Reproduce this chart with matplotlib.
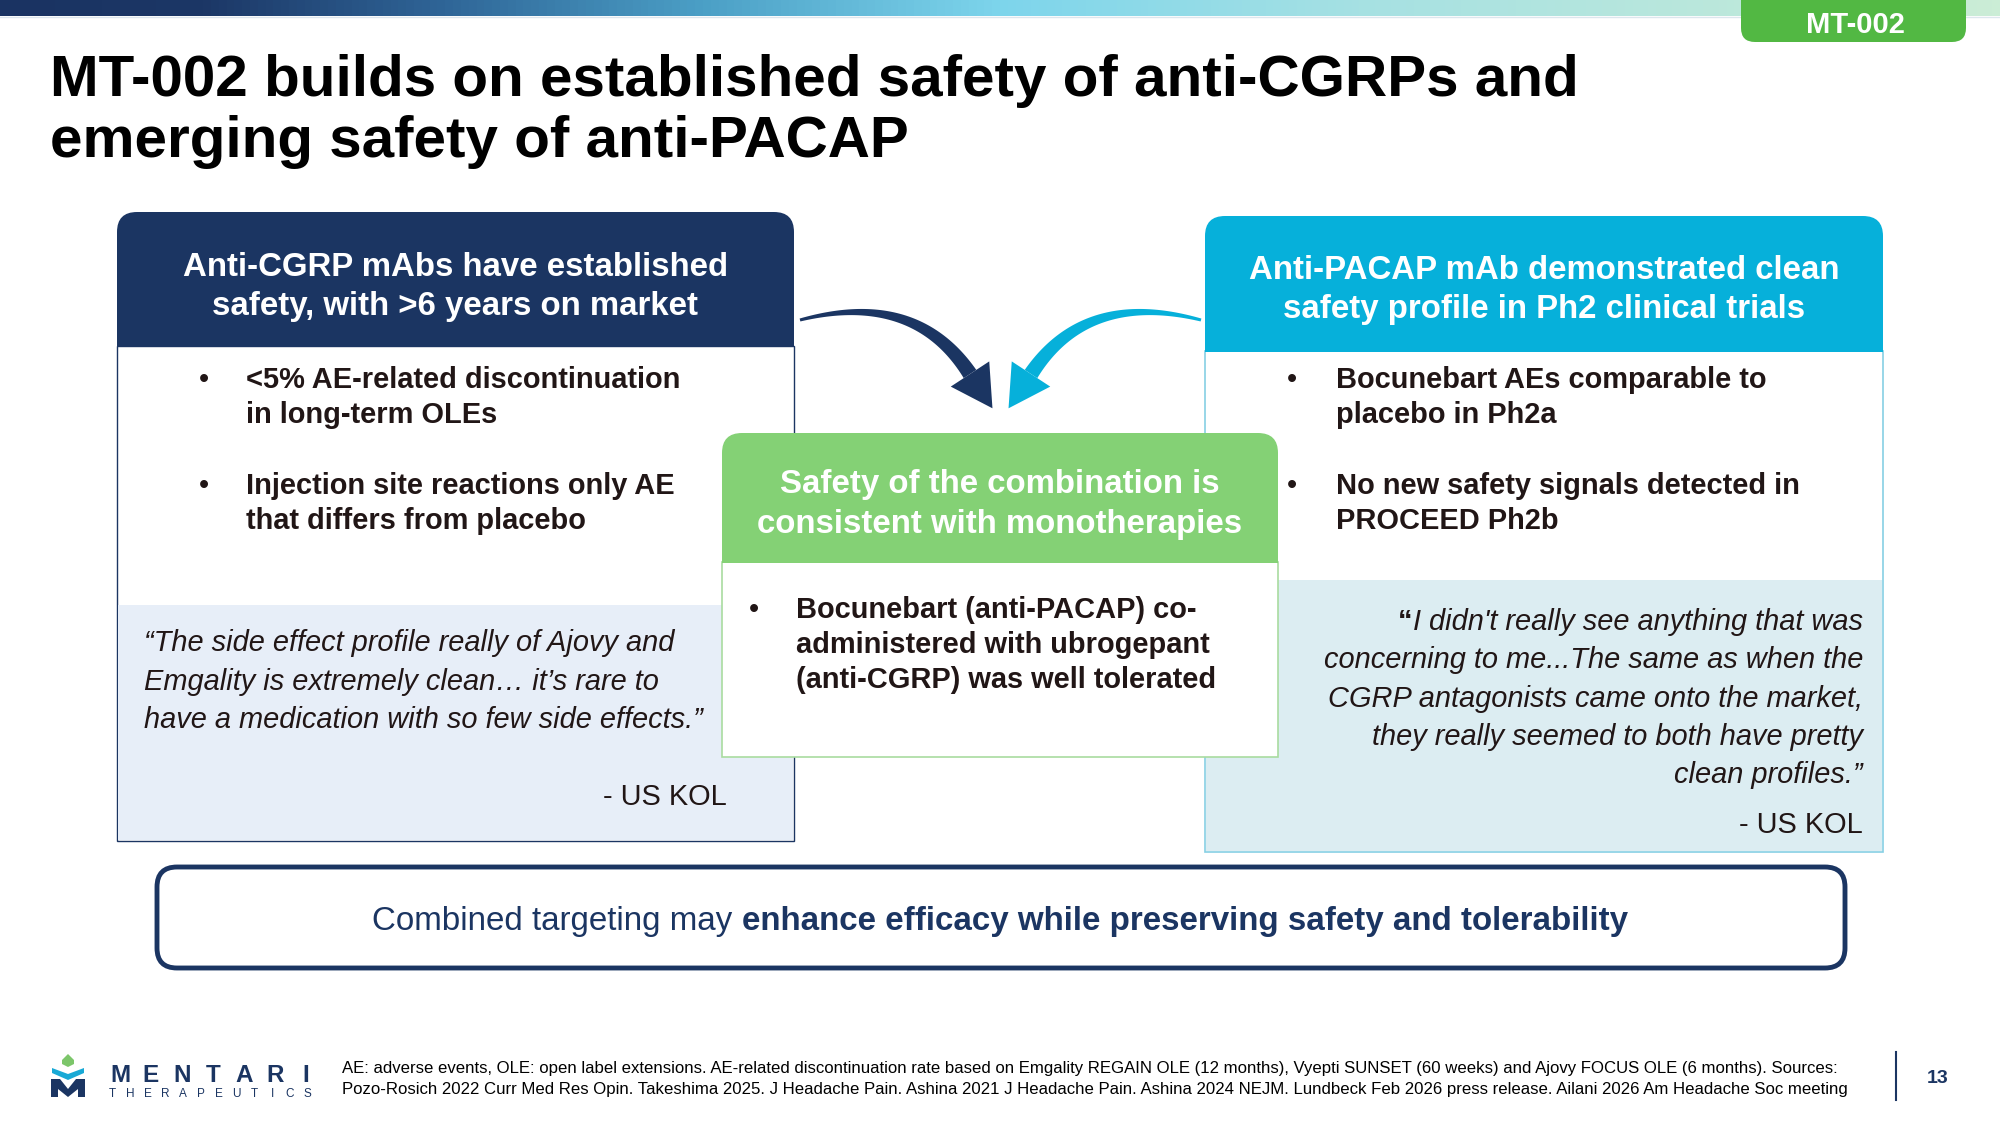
import matplotlib
matplotlib.use("Agg")
import matplotlib.pyplot as plt
import numpy as np
from matplotlib.colors import LinearSegmentedColormap
from matplotlib.patches import FancyBboxPatch, Rectangle, Polygon

plt.rcParams["font.family"] = ["Liberation Sans", "DejaVu Sans"]

# -----------------------------
# Slide text content
# -----------------------------
TITLE_LINES = [
    "MT-002 builds on established safety of anti-CGRPs and",
    "emerging safety of anti-PACAP",
]
TAG_TEXT = "MT-002"

LEFT_HEADER = ["Anti-CGRP mAbs have established", "safety, with >6 years on market"]
LEFT_BULLETS = [
    ["<5% AE-related discontinuation", "in long-term OLEs"],
    ["Injection site reactions only AE", "that differs from placebo"],
]
LEFT_QUOTE = [
    "\u201cThe side effect profile really of Ajovy and",
    "Emgality is extremely clean\u2026 it\u2019s rare to",
    "have a medication with so few side effects.\u201d",
]

RIGHT_HEADER = ["Anti-PACAP mAb demonstrated clean", "safety profile in Ph2 clinical trials"]
RIGHT_BULLETS = [
    ["Bocunebart AEs comparable to", "placebo in Ph2a"],
    ["No new safety signals detected in", "PROCEED Ph2b"],
]
RIGHT_QUOTE = [
    "I didn't really see anything that was",
    "concerning to me...The same as when the",
    "CGRP antagonists came onto the market,",
    "they really seemed to both have pretty",
    "clean profiles.\u201d",
]
QUOTE_SOURCE = "- US KOL"

CENTER_HEADER = ["Safety of the combination is", "consistent with monotherapies"]
CENTER_BULLET = [
    "Bocunebart (anti-PACAP) co-",
    "administered with ubrogepant",
    "(anti-CGRP) was well tolerated",
]

BANNER_PLAIN = "Combined targeting may "
BANNER_BOLD = "enhance efficacy while preserving safety and tolerability"

FOOTNOTES = [
    "AE: adverse events, OLE: open label extensions. AE-related discontinuation rate based on Emgality "
    "REGAIN OLE (12 months), Vyepti SUNSET (60 weeks) and Ajovy FOCUS OLE (6 months). Sources:",
    "Pozo-Rosich 2022 Curr Med Res Opin. Takeshima 2025. J Headache Pain. Ashina 2021 J Headache Pain. "
    "Ashina 2024 NEJM. Lundbeck Feb 2026 press release. Ailani 2026 Am Headache Soc meeting",
]
PAGE_NUMBER = "13"
LOGO_NAME = "MENTARI"
LOGO_SUB = "THERAPEUTICS"

# -----------------------------
# Colours and sizes
# -----------------------------
NAVY = "#1b3562"
CYAN = "#06b0da"
GREEN = "#84d175"
TAG_GREEN = "#52b843"
TEXT_DARK = "#211616"
LEFT_QUOTE_BG = "#e7eef8"
RIGHT_QUOTE_BG = "#dcedf2"

HEADER_FS = 23.8
BULLET_FS = 20.9
QUOTE_FS = 20.9

W, H = 2000, 1125
fig = plt.figure(figsize=(20, 11.25), dpi=100)
ax = fig.add_axes([0, 0, 1, 1])
ax.set_xlim(0, W)
ax.set_ylim(H, 0)
ax.axis("off")


def rounded_top_box(x0, y0, x1, y1, color, r=20, z=2):
    """Filled box with rounded top corners only."""
    ax.add_patch(FancyBboxPatch((x0, y0), x1 - x0, y1 - y0,
                                boxstyle=f"round,pad=0,rounding_size={r}",
                                fc=color, ec="none", zorder=z))
    ax.add_patch(Rectangle((x0, y1 - r - 2), x1 - x0, r + 2, fc=color, ec="none", zorder=z))


def text_width(t):
    fig.canvas.draw()
    bb = t.get_window_extent(renderer=fig.canvas.get_renderer())
    inv = ax.transData.inverted()
    (a, _), (b, _) = inv.transform([[bb.x0, bb.y0], [bb.x1, bb.y1]])
    return abs(b - a)


def tapered_arrow(p0, p1, p2, color, w0=3.0, w1=15.0, head_w=46, head_len=41):
    p0, p1, p2 = map(np.asarray, (p0, p1, p2))
    t = np.linspace(0, 1, 60)[:, None]
    pts = (1 - t) ** 2 * p0 + 2 * t * (1 - t) * p1 + t ** 2 * p2
    tang = 2 * (1 - t) * (p1 - p0) + 2 * t * (p2 - p1)
    tang /= np.linalg.norm(tang, axis=1, keepdims=True)
    nrm = np.column_stack([-tang[:, 1], tang[:, 0]])
    wid = (w0 + (w1 - w0) * t) / 2
    side_a = pts + nrm * wid
    side_b = pts - nrm * wid
    ax.add_patch(Polygon(np.vstack([side_a, side_b[::-1]]), closed=True, fc=color, ec="none", zorder=3))
    d = tang[-1]
    n = nrm[-1]
    head = [p2 + n * head_w / 2, p2 + d * head_len, p2 - n * head_w / 2]
    ax.add_patch(Polygon(head, closed=True, fc=color, ec="none", zorder=3, joinstyle="round"))


# -----------------------------
# Top gradient bar and tag
# -----------------------------
bar_cmap = LinearSegmentedColormap.from_list(
    "bar", [(0.0, "#1a3362"), (0.10, "#1c3766"), (0.22, "#2f6597"), (0.35, "#4b9fc6"),
            (0.50, "#7dd5ec"), (0.68, "#a6e1e3"), (1.0, "#cbedd6")])
ax.imshow(np.linspace(0, 1, 512)[None, :], cmap=bar_cmap, aspect="auto",
          extent=(0, W, 16, 0), zorder=1)
ax.plot([0, W], [17, 17], color="#dde6ee", lw=1, zorder=1)

ax.add_patch(FancyBboxPatch((1741, -40), 225, 82, boxstyle="round,pad=0,rounding_size=14",
                            fc=TAG_GREEN, ec="none", zorder=4))
ax.text(1855, 25, TAG_TEXT, color="white", fontsize=21, fontweight="bold",
        ha="center", va="center", zorder=5)

# Title
for i, line in enumerate(TITLE_LINES):
    ax.text(50, 96 + i * 61, line, fontsize=42, fontweight="bold", color="black",
            ha="left", va="baseline")

# -----------------------------
# Left box
# -----------------------------
LX0, LX1 = 117, 794
ax.add_patch(Rectangle((LX0, 346), LX1 - LX0, 841 - 346, fc="white", ec=NAVY, lw=1.0, zorder=2))
ax.add_patch(Rectangle((LX0 + 1, 605), LX1 - LX0 - 2, 841 - 605 - 1, fc=LEFT_QUOTE_BG, ec="none", zorder=2))
rounded_top_box(LX0, 212, LX1, 347, NAVY)
for i, line in enumerate(LEFT_HEADER):
    ax.text((LX0 + LX1) / 2, 276 + i * 39, line, color="white", fontsize=HEADER_FS,
            fontweight="bold", ha="center", va="baseline", zorder=5)
for j, bullet in enumerate(LEFT_BULLETS):
    for k, line in enumerate(bullet):
        y = 388 + j * 106 + k * 35
        if k == 0:
            ax.text(204, y, "\u2022", color=TEXT_DARK, fontsize=BULLET_FS, ha="center", va="baseline", zorder=5)
        ax.text(246, y, line, color=TEXT_DARK, fontsize=BULLET_FS, fontweight="bold",
                ha="left", va="baseline", zorder=5)
for i, line in enumerate(LEFT_QUOTE):
    ax.text(144, 651 + i * 38.5, line, color=TEXT_DARK, fontsize=QUOTE_FS, style="italic",
            ha="left", va="baseline", zorder=5)
ax.text(727, 805, QUOTE_SOURCE, color=TEXT_DARK, fontsize=QUOTE_FS, ha="right", va="baseline", zorder=5)

# -----------------------------
# Right box
# -----------------------------
RX0, RX1 = 1205, 1883
ax.add_patch(Rectangle((RX0, 351), RX1 - RX0, 852 - 351, fc="white", ec="#86d0e4", lw=1.2, zorder=2))
ax.add_patch(Rectangle((RX0 + 1, 580), RX1 - RX0 - 2, 852 - 580 - 1, fc=RIGHT_QUOTE_BG, ec="none", zorder=2))
rounded_top_box(RX0, 216, RX1, 352, CYAN)
for i, line in enumerate(RIGHT_HEADER):
    ax.text((RX0 + RX1) / 2, 279 + i * 39, line, color="white", fontsize=HEADER_FS,
            fontweight="bold", ha="center", va="baseline", zorder=5)
for j, bullet in enumerate(RIGHT_BULLETS):
    for k, line in enumerate(bullet):
        y = 388 + j * 106 + k * 35
        if k == 0:
            ax.text(1292, y, "\u2022", color=TEXT_DARK, fontsize=BULLET_FS, ha="center", va="baseline", zorder=5)
        ax.text(1336, y, line, color=TEXT_DARK, fontsize=BULLET_FS, fontweight="bold",
                ha="left", va="baseline", zorder=5)
first = None
for i, line in enumerate(RIGHT_QUOTE):
    t = ax.text(1863, 630 + i * 38.3, line, color=TEXT_DARK, fontsize=QUOTE_FS, style="italic",
                ha="right", va="baseline", zorder=5)
    if i == 0:
        first = t
qw = text_width(first)
ax.text(1863 - qw - 1, 630, "\u201c", color=TEXT_DARK, fontsize=QUOTE_FS, fontweight="bold",
        ha="right", va="baseline", zorder=5)
ax.text(1863, 833, QUOTE_SOURCE, color=TEXT_DARK, fontsize=QUOTE_FS, ha="right", va="baseline", zorder=5)

# -----------------------------
# Centre box
# -----------------------------
CX0, CX1 = 722, 1278
ax.add_patch(Rectangle((CX0, 562), CX1 - CX0, 757 - 562, fc="white", ec="#a9dca0", lw=1.2, zorder=6))
rounded_top_box(CX0, 433, CX1, 563, GREEN, z=6)
for i, line in enumerate(CENTER_HEADER):
    ax.text((CX0 + CX1) / 2, 493 + i * 40, line, color="white", fontsize=HEADER_FS,
            fontweight="bold", ha="center", va="baseline", zorder=7)
for k, line in enumerate(CENTER_BULLET):
    y = 618 + k * 35
    if k == 0:
        ax.text(754, y, "\u2022", color=TEXT_DARK, fontsize=BULLET_FS, ha="center", va="baseline", zorder=7)
    ax.text(796, y, line, color=TEXT_DARK, fontsize=BULLET_FS, fontweight="bold",
            ha="left", va="baseline", zorder=7)

# Arrows into the centre box
tapered_arrow((800, 320), (915, 290), (970, 374), NAVY)
tapered_arrow((1201, 320), (1086, 290), (1031, 374), CYAN)

# -----------------------------
# Bottom banner
# -----------------------------
ax.add_patch(FancyBboxPatch((157, 867), 1688, 101, boxstyle="round,pad=0,rounding_size=20",
                            fc="white", ec=NAVY, lw=3.5, zorder=2))
t_plain = ax.text(0, 930, BANNER_PLAIN, color=NAVY, fontsize=23.9, ha="left", va="baseline", zorder=5)
t_bold = ax.text(0, 930, BANNER_BOLD, color=NAVY, fontsize=23.9, fontweight="bold",
                 ha="left", va="baseline", zorder=5)
w_plain = text_width(t_plain)
w_bold = text_width(t_bold)
start = 1000 - (w_plain + w_bold) / 2
t_plain.set_x(start)
t_bold.set_x(start + w_plain)

# -----------------------------
# Footer
# -----------------------------
for i, line in enumerate(FOOTNOTES):
    ax.text(342, 1073 + i * 21, line, color="black", fontsize=12.05, ha="left", va="baseline")
ax.plot([1896, 1896], [1052, 1100], color=NAVY, lw=1.5)
ax.text(1938, 1083, PAGE_NUMBER, color=NAVY, fontsize=14, fontweight="bold", ha="center", va="baseline")

# Logo icon
ax.add_patch(Polygon([(68, 1054), (74, 1060), (74, 1064), (68, 1067), (62, 1064), (62, 1060)],
                     closed=True, fc="#7cc66a", ec="none"))
ax.add_patch(Polygon([(52, 1068), (68, 1074), (84, 1068), (84, 1073), (68, 1080), (52, 1073)],
                     closed=True, fc="#18a9d6", ec="none"))
ax.add_patch(Polygon([(51, 1079), (60, 1079), (68, 1089), (76, 1079), (85, 1079), (85, 1097),
                      (78, 1097), (78, 1089), (68, 1097), (58, 1089), (58, 1097), (51, 1097)],
                     closed=True, fc=NAVY, ec="none"))
for i, ch in enumerate(LOGO_NAME):
    ax.text(120 + i * 31, 1082, ch, color=NAVY, fontsize=17.5, fontweight="bold",
            ha="center", va="baseline")
for i, ch in enumerate(LOGO_SUB):
    ax.text(112 + i * 17.8, 1097, ch, color=NAVY, fontsize=8.5, ha="center", va="baseline")

fig.savefig("out.png", dpi=100)
